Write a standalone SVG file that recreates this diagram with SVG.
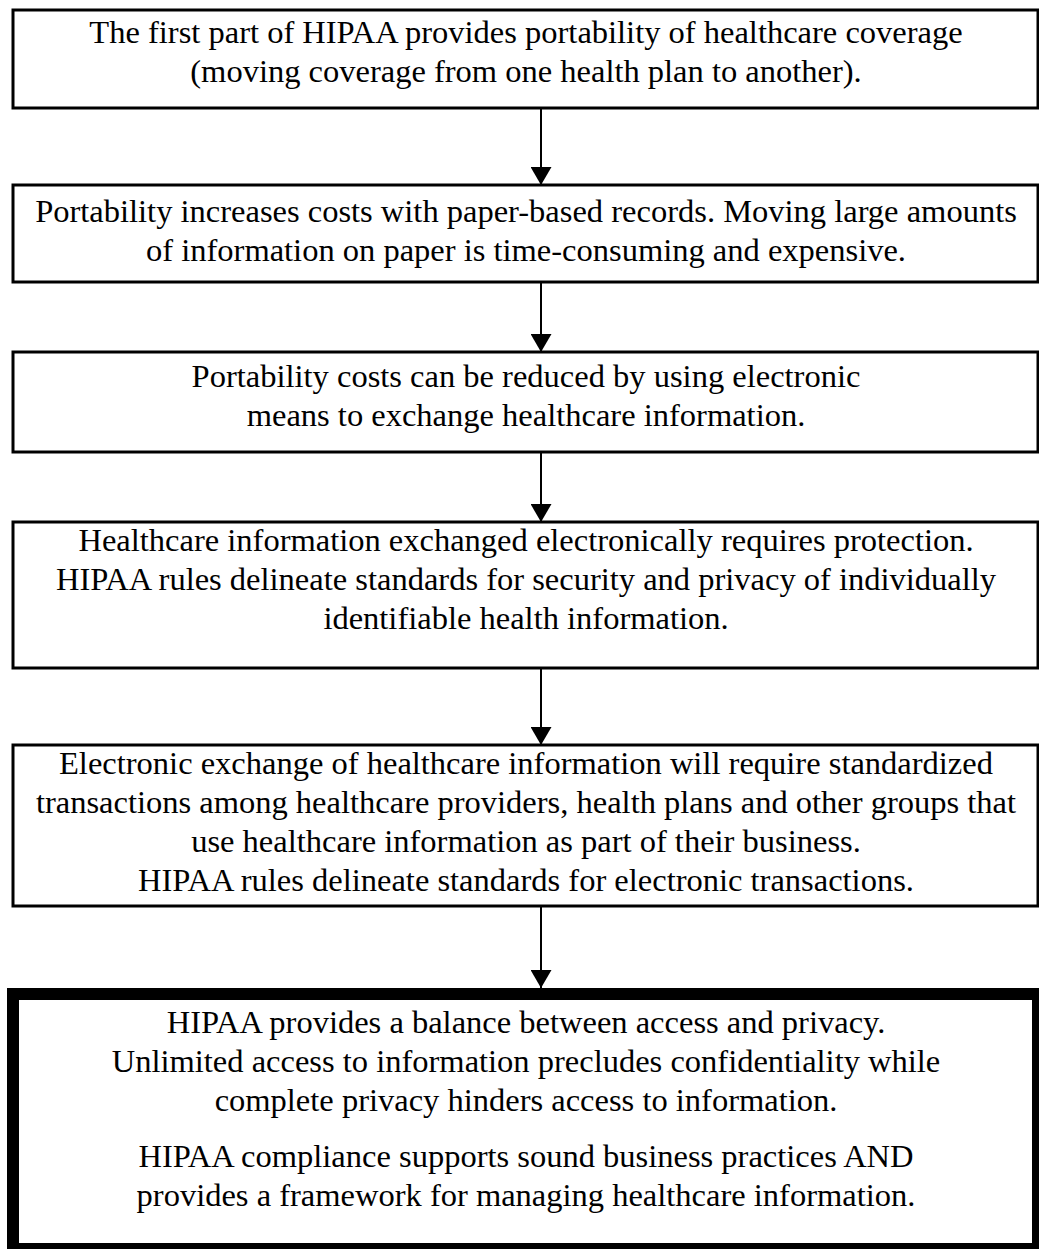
<svg xmlns="http://www.w3.org/2000/svg" width="1039" height="1249" viewBox="0 0 1039 1249">
<defs>
<marker id="ah" markerUnits="userSpaceOnUse" markerWidth="18" markerHeight="21" refX="18" refY="10.5" orient="auto" viewBox="0 0 18 21">
<path d="M0,0 L18,10.5 L0,21 Z" fill="#000"/>
</marker>
<style>
.box{fill:#fff;stroke:#000;stroke-width:3}
.thick{fill:#fff;stroke:#000;stroke-width:12}
.t{font-family:"Liberation Serif","Times New Roman",serif;font-size:32.5px;fill:#000;text-anchor:middle}
.c{stroke:#000;stroke-width:2;fill:none}
</style>
</defs>
<rect width="1039" height="1249" fill="#fff"/>
<g id="connectors">
<line class="c" x1="541" y1="108" x2="541" y2="185" marker-end="url(#ah)"/>
<line class="c" x1="541" y1="282" x2="541" y2="352" marker-end="url(#ah)"/>
<line class="c" x1="541" y1="452" x2="541" y2="522" marker-end="url(#ah)"/>
<line class="c" x1="541" y1="668" x2="541" y2="745" marker-end="url(#ah)"/>
<line class="c" x1="541" y1="906" x2="541" y2="988" marker-end="url(#ah)"/>
</g>
<g id="n1">
<rect class="box" x="13" y="10" width="1025" height="98"/>
<text class="t" x="526" y="43">The first part of HIPAA provides portability of healthcare coverage</text>
<text class="t" x="526" y="82">(moving coverage from one health plan to another).</text>
</g>
<g id="n2">
<rect class="box" x="13" y="185" width="1025" height="97"/>
<text class="t" x="526" y="222">Portability increases costs with paper-based records. Moving large amounts</text>
<text class="t" x="526" y="261">of information on paper is time-consuming and expensive.</text>
</g>
<g id="n3">
<rect class="box" x="13" y="352" width="1025" height="100"/>
<text class="t" x="526" y="387">Portability costs can be reduced by using electronic</text>
<text class="t" x="526" y="426">means to exchange healthcare information.</text>
</g>
<g id="n4">
<rect class="box" x="13" y="522" width="1025" height="146"/>
<text class="t" x="526" y="551">Healthcare information exchanged electronically requires protection.</text>
<text class="t" x="526" y="590">HIPAA rules delineate standards for security and privacy of individually</text>
<text class="t" x="526" y="629">identifiable health information.</text>
</g>
<g id="n5">
<rect class="box" x="13" y="745" width="1025" height="161"/>
<text class="t" x="526" y="774">Electronic exchange of healthcare information will require standardized</text>
<text class="t" x="526" y="813">transactions among healthcare providers, health plans and other groups that</text>
<text class="t" x="526" y="852">use healthcare information as part of their business.</text>
<text class="t" x="526" y="891">HIPAA rules delineate standards for electronic transactions.</text>
</g>
<g id="n6">
<rect class="thick" x="13" y="994" width="1025" height="255"/>
<text class="t" x="526" y="1033">HIPAA provides a balance between access and privacy.</text>
<text class="t" x="526" y="1072">Unlimited access to information precludes confidentiality while</text>
<text class="t" x="526" y="1111">complete privacy hinders access to information.</text>
<text class="t" x="526" y="1167">HIPAA compliance supports sound business practices AND</text>
<text class="t" x="526" y="1206">provides a framework for managing healthcare information.</text>
</g>
</svg>
